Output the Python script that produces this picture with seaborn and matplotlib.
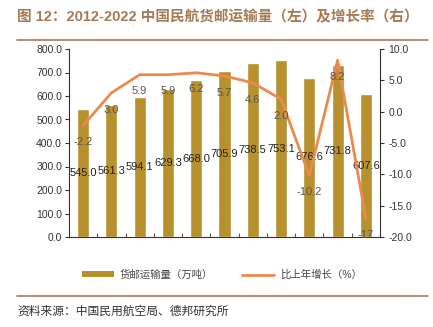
import matplotlib
matplotlib.use("Agg")
import matplotlib.pyplot as plt
import matplotlib.ticker as mticker
from matplotlib.lines import Line2D
from matplotlib.patches import Patch
import seaborn as sns
import numpy as np
import pandas as pd

years = ["2012", "2013", "2014", "2015", "2016", "2017", "2018", "2019", "2020", "2021", "2022"]
volume = [545.0, 561.3, 594.1, 629.3, 668.0, 705.9, 738.5, 753.1, 676.6, 731.8, 607.6]
growth = [-2.2, 3.0, 5.9, 5.9, 6.2, 5.7, 4.6, 2.0, -10.2, 8.2, -17.0]
growth_labels = ["-2.2", "3.0", "5.9", "5.9", "6.2", "5.7", "4.6", "2.0", "-10.2", "8.2", "-17"]

title = "图 12：2012-2022 中国民航货邮运输量（左）及增长率（右）"
legend_bar = "货邮运输量（万吨）"
legend_line = "比上年增长（%）"
source = "资料来源：中国民用航空局、德邦研究所"

sns.set_theme(style="white")
plt.rcParams['font.family'] = ['Liberation Sans', 'Noto Sans CJK SC', 'DejaVu Sans']

bar_color = "#B8912F"
line_color = "#EC8A4E"
title_color = "#A57A55"

df = pd.DataFrame({"year": years, "volume": volume, "growth": growth, "pos": np.arange(len(years))})

fig = plt.figure(figsize=(4.33, 3.27), dpi=100)
ax = fig.add_axes([69/433, 1-237/327, (380-69)/433, (237-49)/327])
sns.barplot(data=df, x="year", y="volume", color=bar_color, width=0.43, ax=ax, saturation=1)
ax.set_ylim(0, 800)
ax.set_xlim(-0.5, len(years)-0.5)
ax.yaxis.set_major_locator(mticker.MultipleLocator(100))
ax.yaxis.set_major_formatter(mticker.FormatStrFormatter("%.1f"))
ax.set_xlabel("")
ax.set_ylabel("")
for s in ["top", "right"]:
    ax.spines[s].set_visible(False)
for s in ["left", "bottom"]:
    ax.spines[s].set_color("#333333")
    ax.spines[s].set_linewidth(0.8)
ax.tick_params(axis="y", which="major", direction="out", length=3, width=0.8, color="#333333",
               labelsize=7.5, labelcolor="#333333", pad=2, left=True)
ax.tick_params(axis="x", which="major", length=0, labelsize=7.5, labelcolor="#333333", pad=4)
ax.set_xticks(np.arange(len(years)) + 0.5, minor=True)
ax.tick_params(axis="x", which="minor", direction="in", length=3, width=0.8, color="#555555", bottom=True)

for i, v in enumerate(volume):
    ax.text(i, v/2, f"{v:.1f}", ha="center", va="center", fontsize=8, color="#222222")

ax2 = ax.twinx()
sns.lineplot(data=df, x="pos", y="growth", color=line_color, linewidth=2, ax=ax2)
ax2.set_ylim(-20, 10)
ax2.set_xlim(-0.5, len(years)-0.5)
ax2.yaxis.set_major_locator(mticker.MultipleLocator(5))
ax2.yaxis.set_major_formatter(mticker.FormatStrFormatter("%.1f"))
ax2.set_ylabel("")
ax2.set_xlabel("")
for s in ["top", "left", "bottom"]:
    ax2.spines[s].set_visible(False)
ax2.spines["right"].set_color("#333333")
ax2.spines["right"].set_linewidth(0.8)
ax2.tick_params(axis="y", direction="out", length=3, width=0.8, color="#333333",
                labelsize=7.5, labelcolor="#333333", pad=3, right=True)
ax2.set_xticks([])

for i, (g, lab) in enumerate(zip(growth, growth_labels)):
    ax2.annotate(lab, (i, g), xytext=(0, -12), textcoords="offset points",
                 ha="center", va="center", fontsize=8, color="#555555")

fig.text(17/433, 1-17/327, title, fontsize=10.5, fontweight="bold", color=title_color, va="center", ha="left")
fig.add_artist(Line2D([17/433, 428/433], [1-40/327, 1-40/327], color=title_color, linewidth=1.2))
fig.add_artist(Line2D([17/433, 428/433], [1-296/327, 1-296/327], color=title_color, linewidth=1.2))
fig.text(17/433, 1-312/327, source, fontsize=8.5, color="#333333", va="center", ha="left")

handles = [Patch(facecolor=bar_color, edgecolor="none"), Line2D([0], [0], color=line_color, linewidth=2)]
fig.legend(handles, [legend_bar, legend_line], loc="center", bbox_to_anchor=(222/433, 1-275/327),
           ncol=2, frameon=False, fontsize=7.5, labelcolor="#444444", handlelength=3.0,
           handleheight=0.5, columnspacing=2.8, handletextpad=0.6)

fig.savefig("out.png", dpi=100)
